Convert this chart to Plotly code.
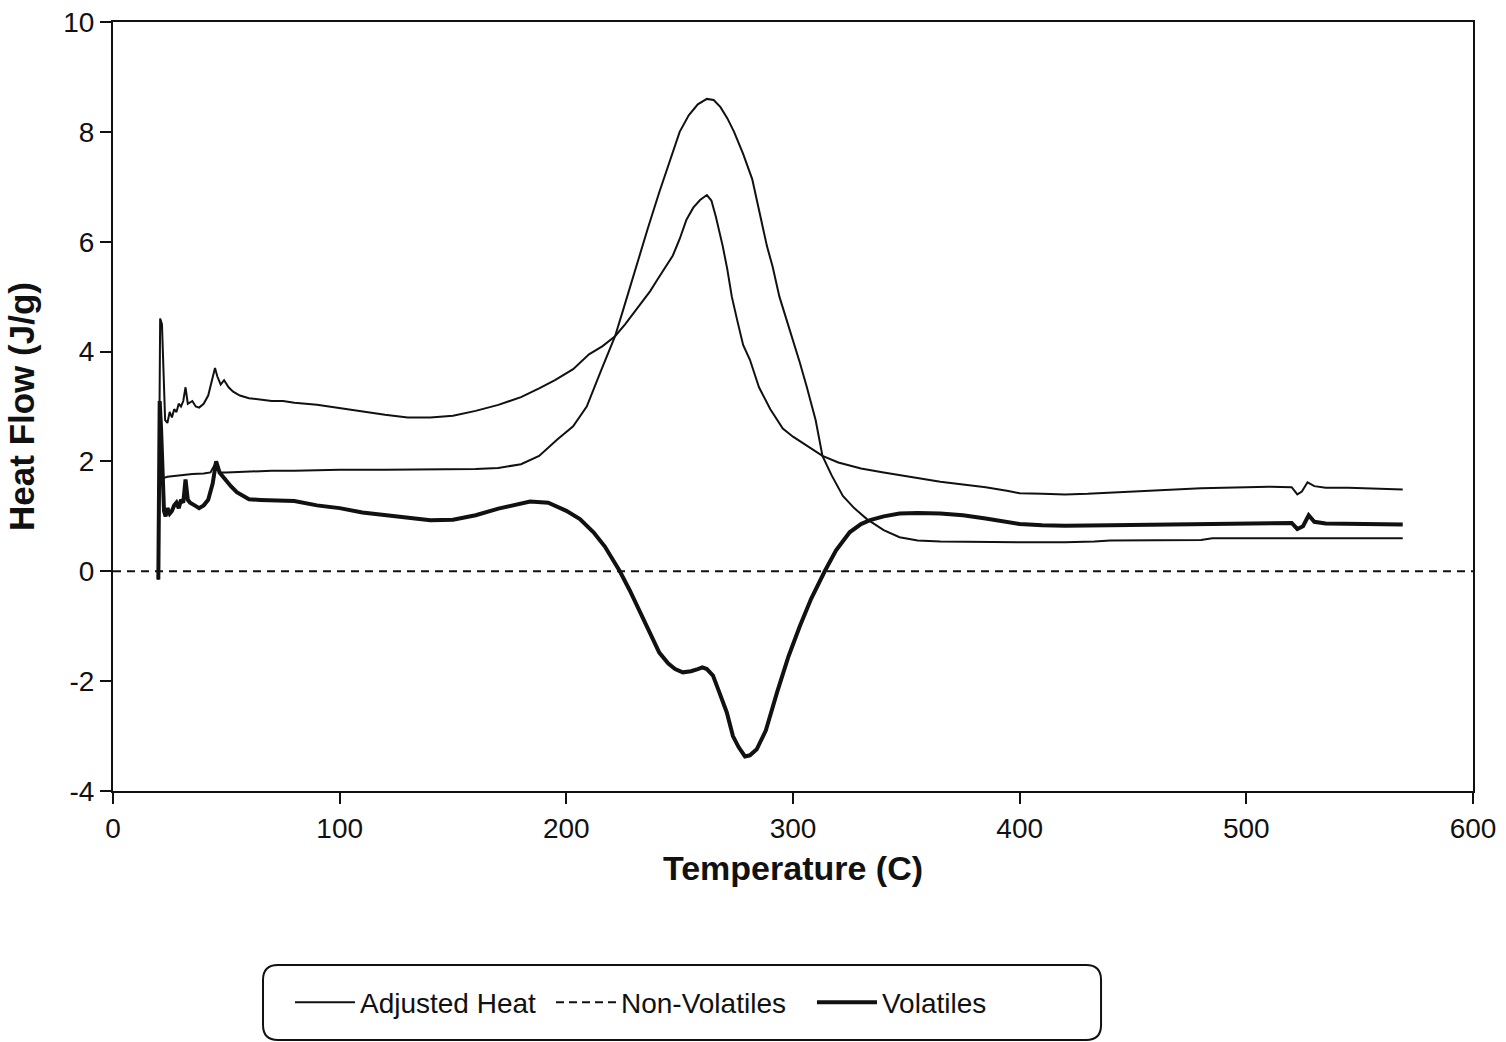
import plotly.graph_objects as go

# Adjusted heat flow signal (J/g) against temperature (C)
adjusted_temp = [20.0, 20.8, 21.6, 22.3, 23.0, 24.0, 25.0, 26.0, 27.0, 28.0, 29.0, 30.0, 31.0, 32.0,
                 33.0, 35.0, 36.5, 38.0, 40.0, 42.0, 44.0, 45.0, 46.0, 47.5, 49.0, 51.0, 53.0, 56.0,
                 60.0, 65.0, 70.0, 75.0, 80.0, 90.0, 100, 110, 120, 130, 140, 150, 160, 170, 180,
                 188, 195, 203, 210, 216, 221.5, 226, 230, 234, 237, 240, 244, 247, 250, 253, 256,
                 259, 262, 264, 266, 269, 271, 273, 275.5, 278, 281, 285, 290, 295.5, 300, 305, 313,
                 320, 330, 340, 347, 355, 365, 375, 385, 395, 400, 410, 420, 430, 440, 450, 460, 470,
                 480, 490, 500, 510, 520, 522.5, 524.5, 527, 530, 535, 545, 555, 569]
adjusted_heat = [-0.15, 4.6, 4.5, 3.6, 2.75, 2.7, 2.9, 2.8, 2.95, 2.9, 3.05, 3.0, 3.1, 3.35,
                 3.05, 3.1, 3.0, 2.98, 3.05, 3.2, 3.5, 3.7, 3.55, 3.4, 3.48, 3.35, 3.27, 3.2,
                 3.15, 3.12, 3.1, 3.1, 3.07, 3.03, 2.97, 2.9, 2.85, 2.8, 2.8, 2.83, 2.92, 3.03, 3.17,
                 3.33, 3.48, 3.68, 3.95, 4.1, 4.28, 4.5, 4.72, 4.95, 5.1, 5.3, 5.55, 5.75, 6.05, 6.4, 6.62,
                 6.76, 6.85, 6.75, 6.45, 5.92, 5.5, 5.0, 4.55, 4.12, 3.85, 3.35, 2.95, 2.6, 2.45, 2.32, 2.1,
                 1.98, 1.87, 1.8, 1.75, 1.69, 1.63, 1.58, 1.53, 1.46, 1.42, 1.41, 1.40, 1.41, 1.43, 1.45, 1.48, 1.5,
                 1.51, 1.52, 1.53, 1.54, 1.53, 1.40, 1.45, 1.62, 1.55, 1.52, 1.52, 1.51, 1.49]

# Non-volatile component
nonvol_temp = [20.0, 20.8, 21.5, 22.5, 24, 26, 30, 35, 40, 43, 45, 47, 50, 60, 70, 80, 100, 120,
               140, 160, 170, 180, 188, 196, 203, 209, 215, 221.5, 225, 229, 232, 236, 241, 245,
               250, 254, 258, 262, 265, 268, 271, 274, 278, 282, 285, 288.5, 291, 294, 297, 300,
               303, 306, 310, 313, 317, 322, 327, 332.6, 340, 347, 355, 365, 380, 400, 420, 433,
               440, 460, 480, 485, 500, 520, 540, 569]
non_volatiles = [-0.15, 2.9, 1.75, 1.7, 1.72, 1.73, 1.75, 1.77, 1.78, 1.8, 1.95, 1.8, 1.8, 1.82,
                 1.83, 1.83, 1.85, 1.85, 1.85, 1.86, 1.88, 1.95, 2.1, 2.4, 2.64, 3.0, 3.62, 4.28,
                 4.75, 5.3, 5.68, 6.25, 6.9, 7.4, 8.0, 8.3, 8.5, 8.6, 8.58, 8.45, 8.25, 8.0, 7.6,
                 7.14, 6.6, 5.92, 5.55, 5.0, 4.6, 4.22, 3.8, 3.37, 2.75, 2.1, 1.75, 1.37, 1.15, 0.95,
                 0.75, 0.62, 0.56, 0.54, 0.53, 0.53, 0.53, 0.54, 0.56, 0.56, 0.57, 0.6, 0.6, 0.6, 0.6, 0.6]

# Volatile component
vol_temp = [20.0, 20.6, 21.2, 21.8, 22.5, 23.2, 24, 25, 26, 27, 28, 29, 30, 31, 32, 33, 34, 36, 38,
            40, 42, 44, 45.5, 47, 49.5, 52, 54.6, 57, 60, 65, 70, 80, 90, 100, 110, 120, 130, 140,
            150, 160, 170, 178, 184, 192, 200, 206, 212, 217, 220.6, 223.6, 228, 232.5, 237, 241,
            245, 248, 251.4, 255, 258, 260, 262, 264.7, 267, 270.8, 273.5, 276, 278.8, 281, 284,
            288, 293, 298, 303, 308, 314, 319, 325, 330, 334, 340, 347, 355, 365, 375, 385, 395,
            400, 410, 420, 440, 460, 480, 500, 520, 522.5, 525, 527.5, 530, 535, 545, 555, 569]
volatiles = [-0.15, 3.1, 2.6, 1.8, 1.1, 1.0, 1.15, 1.05, 1.1, 1.2, 1.25, 1.15, 1.3, 1.25, 1.67,
             1.3, 1.25, 1.2, 1.15, 1.2, 1.3, 1.6, 2.0, 1.8, 1.67, 1.55, 1.44, 1.38, 1.31, 1.3,
             1.29, 1.28, 1.2, 1.15, 1.07, 1.02, 0.97, 0.93, 0.94, 1.02, 1.14, 1.22, 1.27, 1.25,
             1.1, 0.95, 0.71, 0.45, 0.22, 0.0, -0.35, -0.75, -1.12, -1.48, -1.68, -1.78, -1.84,
             -1.82, -1.78, -1.75, -1.78, -1.9, -2.15, -2.57, -3.0, -3.2, -3.37, -3.35, -3.24,
             -2.9, -2.2, -1.55, -1.0, -0.5, 0.0, 0.38, 0.71, 0.86, 0.93, 1.0, 1.05, 1.06, 1.05,
             1.02, 0.96, 0.9, 0.86, 0.84, 0.83, 0.84, 0.85, 0.86, 0.87, 0.88, 0.77, 0.82, 1.02,
             0.9, 0.87, 0.86, 0.85, 0.85]

x_ticks = [0, 100, 200, 300, 400, 500, 600]
x_tick_labels = ["0", "100", "200", "300", "400", "500", "600"]
y_ticks = [-4, -2, 0, 2, 4, 6, 8, 10]
y_tick_labels = ["-4", "-2", "0", "2", "4", "6", "8", "10"]

INK = "#111111"
FONT = "Liberation Sans, Arial, Helvetica, sans-serif"

fig = go.Figure()

fig.add_trace(go.Scatter(x=adjusted_temp, y=adjusted_heat, mode="lines", name="Adjusted Heat",
                         line=dict(color=INK, width=2)))
fig.add_trace(go.Scatter(x=nonvol_temp, y=non_volatiles, mode="lines", name="Non-Volatiles",
                         legendgroup="nv", showlegend=False, line=dict(color=INK, width=2)))
# legend key for the non-volatile series uses a dashed stroke
fig.add_trace(go.Scatter(x=[None], y=[None], mode="lines", name="Non-Volatiles",
                         legendgroup="nv", line=dict(color=INK, width=2, dash="8px,5px")))
fig.add_trace(go.Scatter(x=vol_temp, y=volatiles, mode="lines", name="Volatiles",
                         line=dict(color=INK, width=4)))

axis_common = dict(
    showline=True, linewidth=2, linecolor=INK, mirror=True,
    ticks="outside", ticklen=11, tickwidth=2, tickcolor=INK,
    showgrid=False, zeroline=False,
    tickfont=dict(family=FONT, size=28, color=INK),
)

fig.update_xaxes(range=[0, 600], tickvals=x_ticks, ticktext=x_tick_labels,
                 title=dict(text="<b>Temperature (C)</b>", font=dict(family=FONT, size=34, color=INK),
                            standoff=14),
                 **axis_common)
fig.update_yaxes(range=[-4, 10], tickvals=y_ticks, ticktext=y_tick_labels,
                 title=dict(text="<b>Heat Flow (J/g)</b>", font=dict(family=FONT, size=35, color=INK),
                            standoff=18),
                 **axis_common)

# zero reference line
fig.add_shape(type="line", xref="paper", x0=0, x1=1, yref="y", y0=0, y1=0,
              line=dict(color=INK, width=2, dash="8px,6px"), layer="below")

# rounded frame around the legend
x0, x1, yt, yb = 0.1103, 0.7265, -0.2263, -0.3238
rx, ry = 0.011, 0.0195
frame = (f"M {x0+rx},{yt} L {x1-rx},{yt} Q {x1},{yt} {x1},{yt-ry} "
         f"L {x1},{yb+ry} Q {x1},{yb} {x1-rx},{yb} L {x0+rx},{yb} "
         f"Q {x0},{yb} {x0},{yb+ry} L {x0},{yt-ry} Q {x0},{yt} {x0+rx},{yt} Z")
fig.add_shape(type="path", path=frame, xref="paper", yref="paper",
              line=dict(color=INK, width=2), fillcolor="rgba(0,0,0,0)")

fig.update_layout(
    width=1506, height=1042,
    margin=dict(l=113, r=33, t=22, b=251, autoexpand=False),
    paper_bgcolor="white", plot_bgcolor="white",
    font=dict(family=FONT, color=INK),
    showlegend=True,
    legend=dict(orientation="h", x=0.418, xanchor="center", y=-0.275, yanchor="middle",
                itemwidth=60, entrywidth=186, entrywidthmode="pixels",
                font=dict(family=FONT, size=28, color=INK),
                bgcolor="rgba(0,0,0,0)", borderwidth=0),
)

fig.write_html("out.html")
